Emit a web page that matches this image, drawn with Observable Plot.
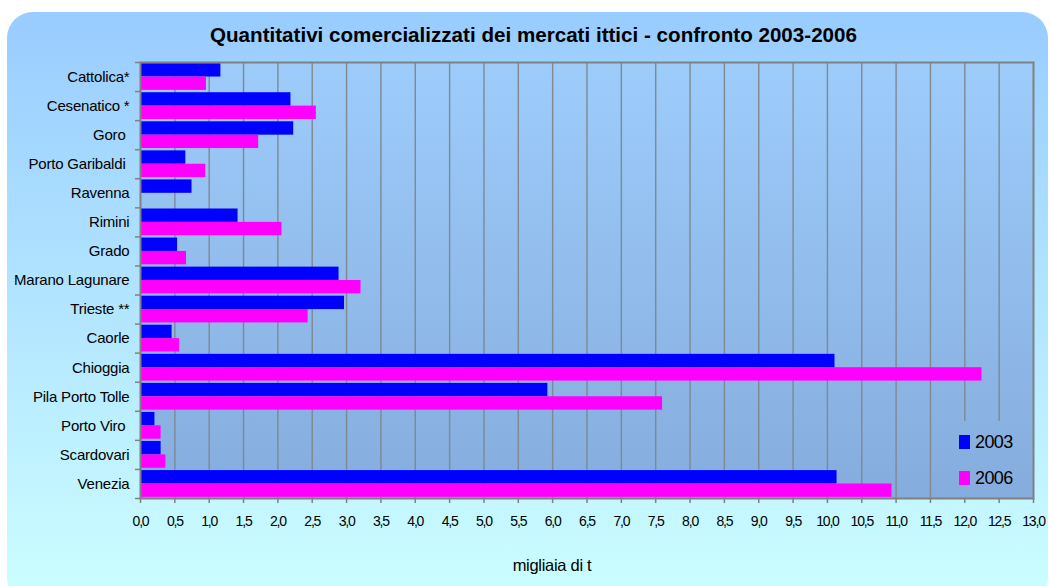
<!DOCTYPE html>
<html><head><meta charset="utf-8">
<script src="https://cdn.jsdelivr.net/npm/d3@7"></script>
<script src="https://cdn.jsdelivr.net/npm/@observablehq/plot@0.6"></script>
<style>
html,body{margin:0;padding:0;background:#fff;}
#wrap{position:relative;width:1050px;height:586px;overflow:hidden;font-family:"Liberation Sans",Arial,sans-serif;color:#000;}
#panel{position:absolute;left:7px;top:12px;width:1041px;height:592px;border-radius:26px;background:linear-gradient(to bottom,#99ccff 0%,#ccffff 100%);}
#plotbg{position:absolute;left:140px;top:62px;width:893px;height:436px;background:linear-gradient(to bottom,#9dccfb,#85acdc);}
#chart{position:absolute;left:0;top:0;}
#title{position:absolute;left:0;top:0;}
#xlabel{position:absolute;left:552px;top:556px;transform:translateX(-50%);font-size:16.5px;letter-spacing:-0.3px;white-space:nowrap;}
.legend-item{position:absolute;display:flex;align-items:center;height:18px;font-size:18px;letter-spacing:-0.6px;}
.sw{width:11px;height:14px;margin-right:5px;}
#chart g[aria-label^="y-axis"] text{font-size:15px;letter-spacing:-0.2px;white-space:pre;}
#chart g[aria-label^="x-axis"] text{font-size:14px;letter-spacing:-1.2px;}
#chart g[aria-label^="x-axis"] line,#chart g[aria-label^="x-axis"] path{stroke:#808080;stroke-width:1.5px;}
</style>
</head>
<body>
<div id="wrap">
  <div id="panel"></div>
  <div id="plotbg"></div>
  <svg id="title" width="1050" height="60"><text x="533.5" y="42" text-anchor="middle" font-family="Liberation Sans, Arial, sans-serif" font-weight="bold" font-size="21" textLength="647" lengthAdjust="spacingAndGlyphs">Quantitativi comercializzati dei mercati ittici - confronto 2003-2006</text></svg>
  <div id="xlabel">migliaia di t</div>
</div>
<script>
const categories = ["Cattolica*", "Cesenatico *", "Goro ", "Porto Garibaldi ", "Ravenna", "Rimini", "Grado", "Marano Lagunare", "Trieste **", "Caorle", "Chioggia", "Pila Porto Tolle", "Porto Viro ", "Scardovari", "Venezia"];
const values2003 = [1.17, 2.19, 2.23, 0.66, 0.75, 1.42, 0.54, 2.89, 2.97, 0.46, 10.11, 5.93, 0.21, 0.30, 10.14];
const values2006 = [0.96, 2.56, 1.72, 0.95, null, 2.06, 0.67, 3.21, 2.44, 0.57, 12.25, 7.60, 0.30, 0.37, 10.94];
const years = ["2003", "2006"];
const colors = ["#0000ff", "#ff00ff"];
const xTicks = [0, 0.5, 1, 1.5, 2, 2.5, 3, 3.5, 4, 4.5, 5, 5.5, 6, 6.5, 7, 7.5, 8, 8.5, 9, 9.5, 10, 10.5, 11, 11.5, 12, 12.5, 13];
const xTickLabels = ["0,0","0,5","1,0","1,5","2,0","2,5","3,0","3,5","4,0","4,5","5,0","5,5","6,0","6,5","7,0","7,5","8,0","8,5","9,0","9,5","10,0","10,5","11,0","11,5","12,0","12,5","13,0"];

const rows = categories.flatMap((cat, i) => [
  {cat, i, year: years[0], value: values2003[i]},
  {cat, i, year: years[1], value: values2006[i]}
]).filter(d => d.value != null);

const pad = 0.04;
const gridColor = "#7f8893";
const boundaries = categories.map((c, i) => i).concat([categories.length]);

const chart = Plot.plot({
  width: 1050, height: 586,
  marginLeft: 140, marginRight: 17, marginTop: 62, marginBottom: 88,
  style: {background: "transparent", fontFamily: "Liberation Sans, Arial, sans-serif", color: "#000", overflow: "visible"},
  x: {domain: [0, 13], ticks: xTicks, tickFormat: d => xTickLabels[xTicks.indexOf(d)], tickSize: 5, tickPadding: 13, label: null},
  y: {domain: [0, categories.length], reverse: true, ticks: categories.map((c, i) => i + 0.5), tickFormat: d => categories[Math.floor(d)], tickSize: 0, tickPadding: 11, label: null},
  color: {domain: years, range: colors},
  marks: [
    Plot.ruleX(xTicks.filter(t => t > 0 && t < 12), {stroke: gridColor, strokeWidth: 1.4}),
    Plot.ruleX(xTicks.filter(t => t >= 12 && t < 13), {stroke: gridColor, strokeWidth: 1.4, insetBottom: 77}),
    Plot.rect(rows, {
      x1: 0, x2: "value",
      y1: d => d.i + (d.year === years[0] ? pad : 0.5),
      y2: d => d.i + (d.year === years[0] ? 0.5 : 1 - pad),
      fill: "year"
    }),
    Plot.frame({stroke: "#808080", strokeWidth: 2}),
    Plot.ruleY(boundaries, {x1: 0, x2: 0, insetLeft: -5, stroke: "#808080", strokeWidth: 1.5})
  ]
});
chart.id = "chart";
const wrap = document.getElementById("wrap");
wrap.insertBefore(chart, document.getElementById("title"));

// legend
const legendTops = [433, 469];
years.forEach((y, k) => {
  const item = document.createElement("div");
  item.className = "legend-item";
  item.style.left = "959px";
  item.style.top = legendTops[k] + "px";
  const sw = document.createElement("div");
  sw.className = "sw";
  sw.style.background = colors[k];
  const t = document.createElement("span");
  t.textContent = y;
  item.appendChild(sw);
  item.appendChild(t);
  wrap.appendChild(item);
});
</script>
</body></html>
